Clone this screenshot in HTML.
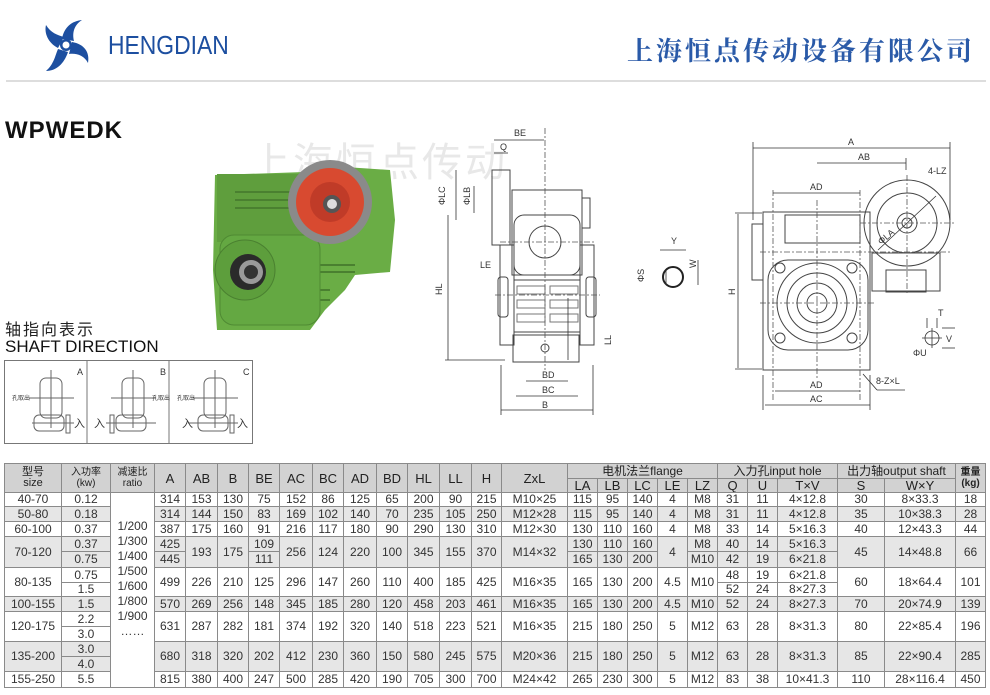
<!DOCTYPE html>
<html><head><meta charset="utf-8"><style>
*{margin:0;padding:0;box-sizing:border-box}
body{width:990px;height:695px;background:#fff;position:relative;overflow:hidden;font-family:"Liberation Sans","Noto Sans CJK SC",sans-serif}
.a{position:absolute;white-space:nowrap}
table{position:absolute;left:4px;top:463px;border-collapse:collapse;table-layout:fixed;font-size:12px;color:#333}
td{border:1px solid #8a8a8a;text-align:center;padding:0;line-height:11px;overflow:hidden;white-space:nowrap}
tr.h td{background:#d2d2d2;font-size:13px;color:#222}
tr.g td{background:#e6e6e6}
td.w{background:#fff!important}
</style></head><body>
<svg class="a" style="left:38px;top:18px" width="58" height="56" viewBox="0 0 58 56">
<g fill="#1d4fa0" transform="translate(28,27)">
<path d="M-4,-6 C-2,-18 6,-24 16,-25 C8,-20 6,-12 8,-4 Z"/>
<path d="M6,-3 C18,-1 24,7 22,18 C18,10 10,8 3,9 Z"/>
<path d="M2,7 C-2,19 -10,26 -20,26 C-12,19 -11,11 -8,4 Z"/>
<path d="M-8,3 C-18,-2 -22,-12 -20,-20 C-15,-12 -9,-10 -2,-8 Z"/>
<circle r="6" fill="#1d4fa0"/><circle r="3.5" fill="#fff"/>
</g></svg>
<div class="a" style="left:108px;top:30px;font-size:26px;color:#1d4fa0;transform:scaleX(0.88);transform-origin:left">HENGDIAN</div>
<div class="a" style="left:627px;top:31px;font-size:26px;color:#2a5aa8;font-family:'Liberation Serif','Noto Serif CJK SC',serif;font-weight:bold;letter-spacing:3px">上海恒点传动设备有限公司</div>
<div class="a" style="left:6px;top:80px;width:980px;height:2px;background:#ddd"></div>
<div class="a" style="left:5px;top:117px;font-size:24px;font-weight:bold;color:#111;letter-spacing:1px">WPWEDK</div>
<div class="a" style="left:250px;top:130px;font-size:40px;color:#e8e8e8;letter-spacing:3px">上海恒点传动</div>

<!-- photo -->
<svg class="a" style="left:205px;top:160px" width="195" height="175">
<path d="M10,15 L100,12 L110,5 L185,10 L190,60 L185,112 L150,115 L140,130 L120,150 L105,170 L12,170 L8,110 Z" fill="#6aad45"/>
<rect x="12" y="14" width="95" height="68" fill="#5f9e3d"/>
<g stroke="#4a8030" stroke-width="2"><line x1="30" y1="32" x2="90" y2="32"/><line x1="30" y1="40" x2="90" y2="40"/><line x1="30" y1="48" x2="90" y2="48"/><line x1="110" y1="105" x2="150" y2="105"/><line x1="110" y1="112" x2="150" y2="112"/><line x1="105" y1="130" x2="125" y2="130"/><line x1="105" y1="140" x2="125" y2="140"/></g>
<rect x="15" y="75" width="100" height="90" rx="14" fill="#64a842" stroke="#4f8a33"/>
<circle cx="40" cy="110" r="30" fill="#5d9e3c" stroke="#4a8030"/>
<circle cx="43" cy="112" r="18" fill="#2a2a2a"/><circle cx="46" cy="112" r="12" fill="#9a9a9a"/><circle cx="46" cy="112" r="7" fill="#333"/>
<circle cx="125" cy="42" r="42" fill="#8a8a8a"/><circle cx="125" cy="42" r="34" fill="#d84a30"/><circle cx="125" cy="42" r="20" fill="#c03b28"/><circle cx="127" cy="44" r="9" fill="#555"/><circle cx="127" cy="44" r="5" fill="#ddd"/>
</svg>

<div class="a" style="left:5px;top:316px;font-size:16px;color:#222;letter-spacing:2px">轴指向表示</div>
<div class="a" style="left:5px;top:337px;font-size:17px;color:#111">SHAFT DIRECTION</div>
<svg class="a" style="left:4px;top:360px" width="252" height="86" font-size="9" font-family="Liberation Sans">
<rect x="0.5" y="0.5" width="248" height="83" fill="none" stroke="#777"/>
<line x1="83" y1="0" x2="83" y2="84" stroke="#777"/><line x1="165" y1="0" x2="165" y2="84" stroke="#777"/>
<g fill="none" stroke="#666" stroke-width="1">
<g transform="translate(0,0)"><rect x="36" y="18" width="22" height="40" rx="6"/><rect x="30" y="55" width="30" height="16" rx="5"/><line x1="47" y1="10" x2="47" y2="68"/><line x1="25" y1="38" x2="70" y2="38"/><line x1="28" y1="63" x2="70" y2="63"/><rect x="62" y="55" width="4" height="18"/></g>
<g transform="translate(82,0)"><rect x="36" y="18" width="22" height="40" rx="6"/><rect x="30" y="55" width="30" height="16" rx="5"/><line x1="47" y1="10" x2="47" y2="68"/><line x1="25" y1="38" x2="70" y2="38"/><line x1="20" y1="63" x2="70" y2="63"/><rect x="24" y="55" width="4" height="18"/></g>
<g transform="translate(164,0)"><rect x="36" y="18" width="22" height="40" rx="6"/><rect x="30" y="55" width="30" height="16" rx="5"/><line x1="47" y1="10" x2="47" y2="68"/><line x1="25" y1="38" x2="70" y2="38"/><line x1="20" y1="63" x2="70" y2="63"/><rect x="62" y="55" width="4" height="18"/></g>
</g>
<g fill="#333"><text x="73" y="15">A</text><text x="156" y="15">B</text><text x="239" y="15">C</text>
<text x="70" y="67" font-size="11">入</text><text x="90" y="67" font-size="11">入</text><text x="178" y="67" font-size="11">入</text><text x="233" y="67" font-size="11">入</text>
<text x="8" y="40" font-size="6">孔取出</text><text x="148" y="40" font-size="6">孔取出</text><text x="173" y="40" font-size="6">孔取出</text></g>
</svg>

<!-- middle drawing -->
<svg class="a" style="left:420px;top:120px" width="300" height="300" font-family="Liberation Sans" font-size="9" fill="#333">
<g fill="none" stroke="#444" stroke-width="1">
<rect x="92" y="70" width="70" height="85"/>
<rect x="72" y="50" width="18" height="75"/>
<rect x="80" y="125" width="14" height="100"/><rect x="160" y="125" width="14" height="100"/>
<rect x="78" y="157" width="10" height="40" rx="3"/><rect x="166" y="157" width="10" height="40" rx="3"/>
<rect x="94" y="95" width="66" height="60" rx="10"/><circle cx="125" cy="122" r="16"/>
<rect x="94" y="160" width="66" height="52"/>
<g stroke="#777"><rect x="97" y="166" width="28" height="8"/><rect x="130" y="166" width="28" height="8"/><rect x="97" y="180" width="28" height="8"/><rect x="130" y="180" width="28" height="8"/><rect x="97" y="194" width="28" height="8"/><rect x="130" y="194" width="28" height="8"/></g>
<rect x="93" y="215" width="66" height="27"/>
<rect x="162" y="78" width="8" height="30"/>
<circle cx="125" cy="228" r="4"/>
</g>
<g stroke="#555" stroke-width="0.8" stroke-dasharray="6,2,2,2"><line x1="125" y1="8" x2="125" y2="250"/><line x1="80" y1="122" x2="175" y2="122"/><line x1="75" y1="175" x2="180" y2="175"/></g>
<g stroke="#333" stroke-width="0.8">
<line x1="74" y1="20" x2="124" y2="20"/><line x1="74" y1="33" x2="88" y2="33"/>
<line x1="36" y1="50" x2="36" y2="100"/><line x1="54" y1="66" x2="54" y2="93"/>
<line x1="28" y1="95" x2="28" y2="240"/><line x1="25" y1="240" x2="85" y2="240"/>
<line x1="148" y1="178" x2="148" y2="240"/>
<line x1="106" y1="261" x2="148" y2="261"/><line x1="96" y1="276" x2="158" y2="276"/><line x1="81" y1="290" x2="173" y2="290"/>
<line x1="81" y1="245" x2="81" y2="295"/><line x1="173" y1="245" x2="173" y2="295"/>
</g>
<text x="94" y="16">BE</text><text x="80" y="30">Q</text>
<text x="25" y="85" transform="rotate(-90 25 85)">ΦLC</text><text x="50" y="85" transform="rotate(-90 50 85)">ΦLB</text>
<text x="22" y="175" transform="rotate(-90 22 175)">HL</text><text x="191" y="225" transform="rotate(-90 191 225)">LL</text>
<text x="60" y="148">LE</text>
<text x="122" y="258">BD</text><text x="122" y="273">BC</text><text x="122" y="288">B</text>
<g fill="none" stroke="#222" stroke-width="2"><circle cx="253" cy="157" r="10"/></g>
<g stroke="#333" stroke-width="0.8"><line x1="240" y1="130" x2="266" y2="130"/><line x1="246" y1="150" x2="246" y2="165"/><line x1="278" y1="140" x2="278" y2="165"/></g>
<text x="251" y="124">Y</text><text x="224" y="162" transform="rotate(-90 224 162)">ΦS</text><text x="276" y="148" transform="rotate(-90 276 148)">W</text>
</svg>

<!-- right drawing -->
<svg class="a" style="left:700px;top:120px" width="290" height="300" font-family="Liberation Sans" font-size="9" fill="#333">
<g fill="none" stroke="#444" stroke-width="1">
<rect x="63" y="92" width="107" height="158"/>
<rect x="52" y="104" width="11" height="56"/>
<rect x="68" y="140" width="100" height="90" rx="20"/>
<circle cx="117" cy="183" r="40"/><circle cx="117" cy="183" r="30"/><circle cx="117" cy="183" r="20"/><circle cx="117" cy="183" r="10"/>
<circle cx="80" cy="148" r="5"/><circle cx="152" cy="148" r="5"/><circle cx="80" cy="218" r="5"/><circle cx="152" cy="218" r="5"/>
<rect x="85" y="95" width="75" height="28"/>
<circle cx="207" cy="103" r="43"/><circle cx="207" cy="103" r="30"/><circle cx="207" cy="103" r="10"/><circle cx="207" cy="103" r="5"/>
<rect x="172" y="133" width="68" height="38"/>
<rect x="186" y="150" width="40" height="22"/>
<circle cx="231" cy="338" r="1"/>
</g>
<g stroke="#555" stroke-width="0.8" stroke-dasharray="6,2,2,2"><line x1="117" y1="80" x2="117" y2="260"/><line x1="60" y1="183" x2="175" y2="183"/><line x1="60" y1="132" x2="250" y2="132"/><line x1="207" y1="55" x2="207" y2="175"/><line x1="160" y1="103" x2="255" y2="103"/><line x1="73" y1="70" x2="73" y2="280"/><line x1="160" y1="70" x2="160" y2="280"/></g>
<g stroke="#333" stroke-width="0.8">
<line x1="53" y1="28" x2="250" y2="28"/><line x1="53" y1="22" x2="53" y2="100"/><line x1="250" y1="22" x2="250" y2="100"/>
<line x1="117" y1="43" x2="206" y2="43"/><line x1="206" y1="38" x2="206" y2="50"/>
<line x1="73" y1="73" x2="160" y2="73"/>
<line x1="38" y1="94" x2="38" y2="248"/><line x1="35" y1="93" x2="62" y2="93"/><line x1="35" y1="249" x2="62" y2="249"/>
<line x1="75" y1="271" x2="160" y2="271"/><line x1="65" y1="285" x2="170" y2="285"/><line x1="63" y1="255" x2="63" y2="290"/><line x1="170" y1="255" x2="170" y2="290"/>
<line x1="178" y1="130" x2="236" y2="76"/><line x1="163" y1="254" x2="177" y2="270"/><line x1="177" y1="270" x2="205" y2="270"/>
<circle cx="232" cy="218" r="7" fill="none"/><line x1="222" y1="218" x2="242" y2="218"/><line x1="232" y1="208" x2="232" y2="228"/>
<line x1="242" y1="208" x2="255" y2="208"/><line x1="242" y1="228" x2="255" y2="228"/><line x1="227" y1="198" x2="227" y2="208"/><line x1="237" y1="198" x2="237" y2="208"/>
</g>
<text x="148" y="25">A</text><text x="158" y="40">AB</text><text x="110" y="70">AD</text><text x="110" y="268">AD</text><text x="110" y="282">AC</text>
<text x="228" y="54">4-LZ</text><text x="181" y="125" transform="rotate(-40 181 125)">ΦLA</text>
<text x="35" y="175" transform="rotate(-90 35 175)">H</text><text x="176" y="264">8-Z×L</text>
<text x="238" y="196">T</text><text x="246" y="222">V</text><text x="213" y="236">ΦU</text>
</svg>

<table>
<colgroup><col style="width:57px"><col style="width:49px"><col style="width:44px"><col style="width:31px"><col style="width:32px"><col style="width:31px"><col style="width:31px"><col style="width:33px"><col style="width:31px"><col style="width:33px"><col style="width:31px"><col style="width:32px"><col style="width:32px"><col style="width:30px"><col style="width:66px"><col style="width:30px"><col style="width:30px"><col style="width:30px"><col style="width:30px"><col style="width:30px"><col style="width:30px"><col style="width:30px"><col style="width:60px"><col style="width:47px"><col style="width:71px"><col style="width:30px"></colgroup>
<tr class="h" style="height:15px"><td rowspan="2" style="font-size:11px">型号<br>size</td><td rowspan="2" style="font-size:10px">入功率<br>(kw)</td><td rowspan="2" style="font-size:10px">减速比<br>ratio</td><td rowspan="2">A</td><td rowspan="2">AB</td><td rowspan="2">B</td><td rowspan="2">BE</td><td rowspan="2">AC</td><td rowspan="2">BC</td><td rowspan="2">AD</td><td rowspan="2">BD</td><td rowspan="2">HL</td><td rowspan="2">LL</td><td rowspan="2">H</td><td rowspan="2">ZxL</td><td colspan="5" style="font-size:12px">电机法兰flange</td><td colspan="3" style="font-size:12px">入力孔input hole</td><td colspan="2" style="font-size:12px">出力轴output shaft</td><td rowspan="2" style="font-size:10px;font-weight:bold">重量<br>(kg)</td></tr>
<tr class="h" style="height:14px"><td>LA</td><td>LB</td><td>LC</td><td>LE</td><td>LZ</td><td>Q</td><td>U</td><td>T×V</td><td>S</td><td>W×Y</td></tr>
<tr style="height:14px"><td>40-70</td><td>0.12</td><td rowspan="13" class="w" style="line-height:15px;vertical-align:top;padding-top:26px">1/200<br>1/300<br>1/400<br>1/500<br>1/600<br>1/800<br>1/900<br>……</td><td>314</td><td>153</td><td>130</td><td>75</td><td>152</td><td>86</td><td>125</td><td>65</td><td>200</td><td>90</td><td>215</td><td>M10×25</td><td>115</td><td>95</td><td>140</td><td>4</td><td>M8</td><td>31</td><td>11</td><td>4×12.8</td><td>30</td><td>8×33.3</td><td>18</td></tr>
<tr class="g" style="height:15px"><td>50-80</td><td>0.18</td><td>314</td><td>144</td><td>150</td><td>83</td><td>169</td><td>102</td><td>140</td><td>70</td><td>235</td><td>105</td><td>250</td><td>M12×28</td><td>115</td><td>95</td><td>140</td><td>4</td><td>M8</td><td>31</td><td>11</td><td>4×12.8</td><td>35</td><td>10×38.3</td><td>28</td></tr>
<tr style="height:15px"><td>60-100</td><td>0.37</td><td>387</td><td>175</td><td>160</td><td>91</td><td>216</td><td>117</td><td>180</td><td>90</td><td>290</td><td>130</td><td>310</td><td>M12×30</td><td>130</td><td>110</td><td>160</td><td>4</td><td>M8</td><td>33</td><td>14</td><td>5×16.3</td><td>40</td><td>12×43.3</td><td>44</td></tr>
<tr class="g" style="height:15px"><td rowspan="2">70-120</td><td>0.37</td><td>425</td><td rowspan="2">193</td><td rowspan="2">175</td><td>109</td><td rowspan="2">256</td><td rowspan="2">124</td><td rowspan="2">220</td><td rowspan="2">100</td><td rowspan="2">345</td><td rowspan="2">155</td><td rowspan="2">370</td><td rowspan="2">M14×32</td><td>130</td><td>110</td><td>160</td><td rowspan="2">4</td><td>M8</td><td>40</td><td>14</td><td>5×16.3</td><td rowspan="2">45</td><td rowspan="2">14×48.8</td><td rowspan="2">66</td></tr>
<tr class="g" style="height:16px"><td>0.75</td><td>445</td><td>111</td><td>165</td><td>130</td><td>200</td><td>M10</td><td>42</td><td>19</td><td>6×21.8</td></tr>
<tr style="height:15px"><td rowspan="2">80-135</td><td>0.75</td><td rowspan="2">499</td><td rowspan="2">226</td><td rowspan="2">210</td><td rowspan="2">125</td><td rowspan="2">296</td><td rowspan="2">147</td><td rowspan="2">260</td><td rowspan="2">110</td><td rowspan="2">400</td><td rowspan="2">185</td><td rowspan="2">425</td><td rowspan="2">M16×35</td><td rowspan="2">165</td><td rowspan="2">130</td><td rowspan="2">200</td><td rowspan="2">4.5</td><td rowspan="2">M10</td><td>48</td><td>19</td><td>6×21.8</td><td rowspan="2">60</td><td rowspan="2">18×64.4</td><td rowspan="2">101</td></tr>
<tr style="height:14px"><td>1.5</td><td>52</td><td>24</td><td>8×27.3</td></tr>
<tr class="g" style="height:15px"><td>100-155</td><td>1.5</td><td>570</td><td>269</td><td>256</td><td>148</td><td>345</td><td>185</td><td>280</td><td>120</td><td>458</td><td>203</td><td>461</td><td>M16×35</td><td>165</td><td>130</td><td>200</td><td>4.5</td><td>M10</td><td>52</td><td>24</td><td>8×27.3</td><td>70</td><td>20×74.9</td><td>139</td></tr>
<tr style="height:15px"><td rowspan="2">120-175</td><td>2.2</td><td rowspan="2">631</td><td rowspan="2">287</td><td rowspan="2">282</td><td rowspan="2">181</td><td rowspan="2">374</td><td rowspan="2">192</td><td rowspan="2">320</td><td rowspan="2">140</td><td rowspan="2">518</td><td rowspan="2">223</td><td rowspan="2">521</td><td rowspan="2">M16×35</td><td rowspan="2">215</td><td rowspan="2">180</td><td rowspan="2">250</td><td rowspan="2">5</td><td rowspan="2">M12</td><td rowspan="2">63</td><td rowspan="2">28</td><td rowspan="2">8×31.3</td><td rowspan="2">80</td><td rowspan="2">22×85.4</td><td rowspan="2">196</td></tr>
<tr style="height:15px"><td>3.0</td></tr>
<tr class="g" style="height:15px"><td rowspan="2">135-200</td><td>3.0</td><td rowspan="2">680</td><td rowspan="2">318</td><td rowspan="2">320</td><td rowspan="2">202</td><td rowspan="2">412</td><td rowspan="2">230</td><td rowspan="2">360</td><td rowspan="2">150</td><td rowspan="2">580</td><td rowspan="2">245</td><td rowspan="2">575</td><td rowspan="2">M20×36</td><td rowspan="2">215</td><td rowspan="2">180</td><td rowspan="2">250</td><td rowspan="2">5</td><td rowspan="2">M12</td><td rowspan="2">63</td><td rowspan="2">28</td><td rowspan="2">8×31.3</td><td rowspan="2">85</td><td rowspan="2">22×90.4</td><td rowspan="2">285</td></tr>
<tr class="g" style="height:15px"><td>4.0</td></tr>
<tr style="height:16px"><td>155-250</td><td>5.5</td><td>815</td><td>380</td><td>400</td><td>247</td><td>500</td><td>285</td><td>420</td><td>190</td><td>705</td><td>300</td><td>700</td><td>M24×42</td><td>265</td><td>230</td><td>300</td><td>5</td><td>M12</td><td>83</td><td>38</td><td>10×41.3</td><td>110</td><td>28×116.4</td><td>450</td></tr>
</table>
</body></html>
